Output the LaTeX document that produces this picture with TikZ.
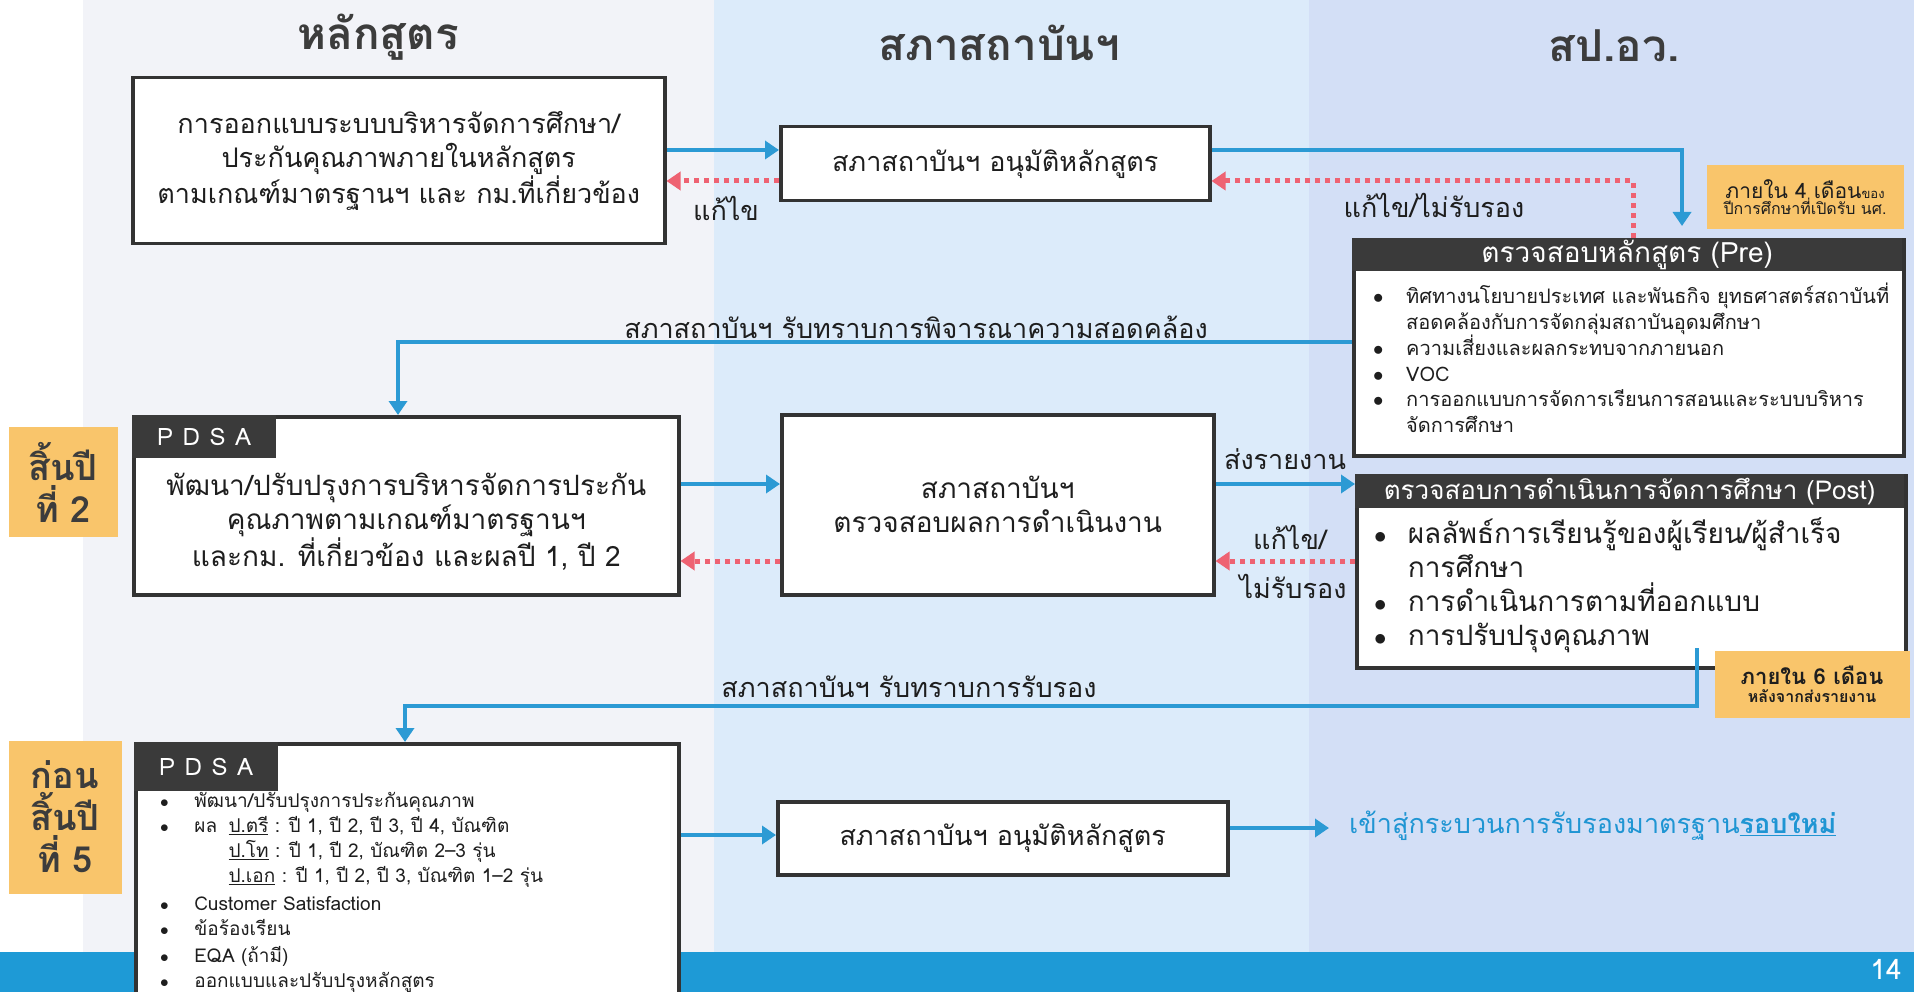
\documentclass[tikz,border=0pt]{standalone}
\usepackage{fontspec}
\setmainfont{Loma}[Script=Thai]
\usetikzlibrary{arrows.meta,calc}
\definecolor{colA}{HTML}{F2F3F8}
\definecolor{colB}{HTML}{DCEBFA}
\definecolor{colC}{HTML}{D3DFF6}
\definecolor{barblue}{HTML}{1E9AD6}
\definecolor{arrowblue}{HTML}{2C9AD4}
\definecolor{dotred}{HTML}{EE6272}
\definecolor{notefill}{HTML}{F9C56B}
\definecolor{boxline}{HTML}{333333}
\definecolor{headdark}{HTML}{3A3A3A}
\definecolor{headgray}{HTML}{3C3C3C}
\definecolor{txt}{HTML}{1E1E1E}
\definecolor{linkblue}{HTML}{1F95D3}
\newcommand{\bul}{\makebox[1.65em][l]{$\bullet$}}
\newcommand{\bulsp}{\hspace*{1.65em}}
\begin{document}
\begin{tikzpicture}[x=1pt,y=-1pt,
  box/.style={draw=boxline, line width=3.5pt, fill=white, text=txt, align=center, inner sep=0pt, anchor=north west},
  tabbox/.style={fill=headdark, text=white, inner sep=0pt, anchor=north west},
  notebox/.style={fill=notefill, text=txt, align=center, inner sep=0pt},
  yearlbl/.style={fill=notefill, text=headgray, align=center, font=\fontsize{36}{42}\selectfont\bfseries, inner sep=0pt},
  barrow/.style={draw=arrowblue, line width=4pt, -{Triangle[length=14pt,width=18pt]}},
  rdot/.style={draw=dotred, line width=5pt, dash pattern=on 5pt off 5pt, -{Triangle[length=14pt,width=18pt]}},
  lbl/.style={text=txt, font=\fontsize{27}{32}\selectfont, inner sep=0pt},
  heading/.style={text=headgray, font=\fontsize{44}{48}\selectfont\bfseries, inner sep=0pt},
  listtxt/.style={text=txt, align=left, inner sep=0pt, anchor=north west}
]
\useasboundingbox (0,0) rectangle (1914,992);
% backgrounds
\fill[white] (0,0) rectangle (1914,992);
\fill[colA] (83,0) rectangle (714,952);
\fill[colB] (714,0) rectangle (1309,952);
\fill[colC] (1309,0) rectangle (1914,952);
\fill[barblue] (0,952) rectangle (1914,992);
\node[text=white, font=\fontsize{28}{30}\selectfont, inner sep=0pt] (pg) at (1886,969) {14};

% headings
\node[heading] (h1) at (378,37) {หลักสูตร};
\node[heading] (h2) at (999,43) {สภาสถาบันฯ};
\node[heading] (h3) at (1614,46) {สป.อว.};

% row / column helper coordinates
\coordinate (r1) at (0,150);
\coordinate (r1d) at (0,181);
\coordinate (r2) at (0,342);
\coordinate (r3) at (0,484);
\coordinate (r4) at (0,561);
\coordinate (r5) at (0,706);
\coordinate (r6) at (0,835);
\coordinate (r7) at (0,828);
\coordinate (k1) at (1682,0);
\coordinate (k2) at (1633,0);
\coordinate (k3) at (398,0);
\coordinate (k5) at (405,0);
\coordinate (p5) at (1697,648);

% ---- row 1
\node[box, minimum width=532pt, minimum height=166pt, font=\fontsize{27}{34}\selectfont] (a1) at (131,76)
  {การออกแบบระบบบริหารจัดการศึกษา/\\ประกันคุณภาพภายในหลักสูตร\\ตามเกณฑ์มาตรฐานฯ และ กม.ที่เกี่ยวข้อง};
\node[box, minimum width=429pt, minimum height=74pt, font=\fontsize{27}{34}\selectfont] (b1) at (779,125)
  {สภาสถาบันฯ อนุมัติหลักสูตร};

% Pre box
\node[box, minimum width=550pt, minimum height=216pt] (pre) at (1352,238) {};
\node[tabbox, minimum width=550pt, minimum height=33pt, font=\fontsize{28}{30}\selectfont] (prehead) at (pre.north west) {ตรวจสอบหลักสูตร (Pre)};
\node[listtxt, font=\fontsize{20}{25.8}\selectfont] (prelist) at (1373,283)
  {\bul ทิศทางนโยบายประเทศ และพันธกิจ ยุทธศาสตร์สถาบันที่\\
   \bulsp สอดคล้องกับการจัดกลุ่มสถาบันอุดมศึกษา\\
   \bul ความเสี่ยงและผลกระทบจากภายนอก\\
   \bul VOC\\
   \bul การออกแบบการจัดการเรียนการสอนและระบบบริหาร\\
   \bulsp จัดการศึกษา};

% ---- row 2
\node[box, minimum width=545pt, minimum height=178pt] (pd2) at (132,415) {};
\node[tabbox, minimum width=144pt, minimum height=43pt, font=\fontsize{24}{26}\selectfont] (pd2tab) at (pd2.north west) {\addfontfeature{LetterSpace=40}PDSA};
\node[text=txt, align=center, inner sep=0pt, font=\fontsize{28}{34}\selectfont] (pd2txt) at ($(pd2.center)+(0,16)$)
  {พัฒนา/ปรับปรุงการบริหารจัดการประกัน\\คุณภาพตามเกณฑ์มาตรฐานฯ\\และกม. ที่เกี่ยวข้อง และผลปี 1, ปี 2};
\node[box, minimum width=432pt, minimum height=180pt, font=\fontsize{28}{34}\selectfont] (b2) at (780,413)
  {สภาสถาบันฯ\\ตรวจสอบผลการดำเนินงาน};

% Post box
\node[box, minimum width=549pt, minimum height=192pt] (post) at (1355,474) {};
\node[tabbox, minimum width=549pt, minimum height=34pt, font=\fontsize{26}{28}\selectfont] (posthead) at (post.north west) {ตรวจสอบการดำเนินการจัดการศึกษา (Post)};
\node[listtxt, font=\fontsize{28}{34}\selectfont] (postlist) at (1374,517)
  {\makebox[1.2em][l]{$\bullet$}ผลลัพธ์การเรียนรู้ของผู้เรียน/ผู้สำเร็จ\\
   \hspace*{1.2em}การศึกษา\\
   \makebox[1.2em][l]{$\bullet$}การดำเนินการตามที่ออกแบบ\\
   \makebox[1.2em][l]{$\bullet$}การปรับปรุงคุณภาพ};

% ---- row 3
\node[box, minimum width=543pt, minimum height=254pt] (pd3) at (134,742) {};
\node[tabbox, minimum width=144pt, minimum height=49pt, font=\fontsize{24}{26}\selectfont] (pd3tab) at (pd3.north west) {\addfontfeature{LetterSpace=40}PDSA};
\node[listtxt, font=\fontsize{19}{25}\selectfont] (pd3list) at (160,792)
  {\makebox[1.8em][l]{$\bullet$}พัฒนา/ปรับปรุงการประกันคุณภาพ\\
   \makebox[1.8em][l]{$\bullet$}\makebox[1.8em][l]{ผล}\underline{ป.ตรี} : ปี 1, ปี 2, ปี 3, ปี 4, บัณฑิต\\
   \hspace*{3.6em}\underline{ป.โท} : ปี 1, ปี 2, บัณฑิต 2–3 รุ่น\\
   \hspace*{3.6em}\underline{ป.เอก} : ปี 1, ปี 2, ปี 3, บัณฑิต 1–2 รุ่น\\[3pt]
   \makebox[1.8em][l]{$\bullet$}Customer Satisfaction\\
   \makebox[1.8em][l]{$\bullet$}ข้อร้องเรียน\\[2pt]
   \makebox[1.8em][l]{$\bullet$}EQA (ถ้ามี)\\
   \makebox[1.8em][l]{$\bullet$}ออกแบบและปรับปรุงหลักสูตร};
\node[box, minimum width=450pt, minimum height=73pt, font=\fontsize{27}{34}\selectfont] (b3) at (776,800)
  {สภาสถาบันฯ อนุมัติหลักสูตร};
\node[text=linkblue, anchor=west, inner sep=0pt, font=\fontsize{27}{32}\selectfont] (next) at (1349,826)
  {เข้าสู่กระบวนการรับรองมาตรฐาน\textbf{\underline{รอบใหม่}}};

% ---- year labels
\node[yearlbl, minimum width=109pt, minimum height=110pt] (y2) at (63,482) {สิ้นปี\\ที่ 2};
\node[yearlbl, minimum width=113pt, minimum height=153pt] (y5) at (65,817) {ก่อน\\สิ้นปี\\ที่ 5};

% ---- connectors
\draw[barrow] (a1.east |- r1) -- (b1.west |- r1);
\draw[rdot] (b1.west |- r1d) -- (a1.east |- r1d);
\draw[barrow, shorten >=12pt] (b1.east |- r1) -| (k1 |- pre.north);
\draw[rdot] (k2 |- pre.north) |- (b1.east |- r1d);
\draw[barrow] (pre.west |- r2) -| (k3 |- pd2.north);
\draw[barrow] (pd2.east |- r3) -- (b2.west |- r3);
\draw[rdot] (b2.west |- r4) -- (pd2.east |- r4);
\draw[barrow] (b2.east |- r3) -- (post.west |- r3);
\draw[rdot] (post.west |- r4) -- (b2.east |- r4);
\draw[barrow] (p5) |- (k5 |- r5) -- (k5 |- pd3.north);
\draw[barrow] (pd3.east |- r6) -- (b3.west |- r6);
\draw[barrow, shorten >=20pt] (b3.east |- r7) -- (next.west |- r7);

% ---- connector labels
\node[lbl] (l1) at (726,208) {แก้ไข};
\node[lbl] (l2) at (1434,205) {แก้ไข/ไม่รับรอง};
\node[lbl] (l3) at (916,327) {สภาสถาบันฯ รับทราบการพิจารณาความสอดคล้อง};
\node[lbl] (l4) at (1285,459) {ส่งรายงาน};
\node[lbl] (l5) at (1290,537) {แก้ไข/};
\node[lbl] (l6) at (1293,586) {ไม่รับรอง};
\node[lbl] (l7) at (909,687) {สภาสถาบันฯ รับทราบการรับรอง};

% ---- notes
\node[notebox, minimum width=197pt, minimum height=64pt] (n1) at (1805,197)
  {{\fontsize{21}{25}\selectfont ภายใน 4 เดือน}{\fontsize{13}{15}\selectfont ของ}\\[-1pt]{\fontsize{16}{20}\selectfont ปีการศึกษาที่เปิดรับ นศ.}};
\node[notebox, minimum width=195pt, minimum height=67pt] (n2) at (1812,684)
  {{\fontsize{22}{26}\selectfont\bfseries ภายใน 6 เดือน}\\[4pt]{\fontsize{16}{20}\selectfont\bfseries หลังจากส่งรายงาน}};
\end{tikzpicture}
\end{document}
